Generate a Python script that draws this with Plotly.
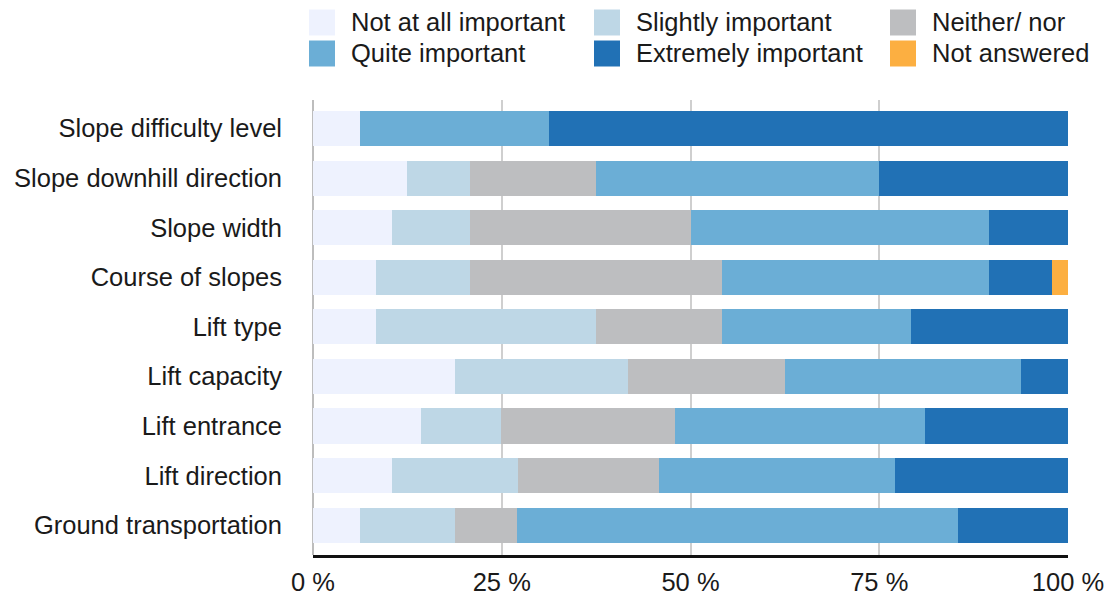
import plotly.graph_objects as go

categories = [
    "Slope difficulty level",
    "Slope downhill direction",
    "Slope width",
    "Course of slopes",
    "Lift type",
    "Lift capacity",
    "Lift entrance",
    "Lift direction",
    "Ground transportation",
]

not_at_all = [6.25, 12.5, 10.42, 8.33, 8.33, 18.75, 14.3, 10.42, 6.25]
slightly = [0, 8.33, 10.42, 12.5, 29.17, 22.92, 10.6, 16.67, 12.5]
neither = [0, 16.67, 29.17, 33.33, 16.67, 20.83, 23.1, 18.75, 8.33]
quite = [25.0, 37.5, 39.58, 35.42, 25.0, 31.25, 33.1, 31.25, 58.33]
extremely = [68.75, 25.0, 10.42, 8.33, 20.83, 6.25, 18.9, 22.92, 14.58]
not_answered = [0, 0, 0, 2.08, 0, 0, 0, 0, 0]

series_names = ["Not at all important", "Slightly important", "Neither/ nor",
                "Quite important", "Extremely important", "Not answered"]
series_values = [not_at_all, slightly, neither, quite, extremely, not_answered]
colors = ["#EEF2FE", "#BED7E6", "#BDBEC0", "#6BAED6", "#2171B5", "#FCAF41"]

tick_vals = [0, 25, 50, 75, 100]
tick_text = ["0 %", "25 %", "50 %", "75 %", "100 %"]

FONT = "Liberation Sans"
FS = 25.5
TXT = "#1a1a1a"

W, H = 1108, 599
ML, MR, MT, MB = 313, 40, 100, 44
PW, PH = W - ML - MR, H - MT - MB


def px_x(x):
    return (x - ML) / PW


def px_y(y):
    return (H - MB - y) / PH


fig = go.Figure()
for name, vals, col in zip(series_names, series_values, colors):
    fig.add_trace(go.Bar(
        y=categories, x=vals, name=name, orientation="h",
        marker=dict(color=col, line=dict(width=0)),
        showlegend=False,
    ))

# custom legend (3 columns x 2 rows)
col_x = [309, 594, 890]
row_y = [22.5, 53.5]
sw = 26
shapes = []
annotations = []
for i, (name, col) in enumerate(zip(series_names, colors)):
    r, c = divmod(i, 3)
    x0 = col_x[c]
    yc = row_y[r]
    shapes.append(dict(type="rect", xref="paper", yref="paper",
                       x0=px_x(x0), x1=px_x(x0 + sw),
                       y0=px_y(yc + sw / 2), y1=px_y(yc - sw / 2),
                       fillcolor=col, line=dict(width=0), layer="above"))
    annotations.append(dict(xref="paper", yref="paper", x=px_x(x0 + 40), y=px_y(yc),
                            text=name, showarrow=False, xanchor="left", yanchor="middle",
                            font=dict(family=FONT, size=FS, color=TXT)))

fig.update_layout(
    barmode="stack",
    bargap=0.29,
    width=W, height=H,
    margin=dict(l=ML, r=MR, t=MT, b=MB, autoexpand=False),
    paper_bgcolor="white",
    plot_bgcolor="white",
    font=dict(family=FONT, size=FS, color=TXT),
    shapes=shapes,
    annotations=annotations,
    xaxis=dict(
        range=[0, 100],
        tickmode="array",
        tickvals=tick_vals,
        ticktext=tick_text,
        showgrid=True, gridcolor="#cfcfcf", gridwidth=1.5,
        zeroline=True, zerolinecolor="#bdbdbd", zerolinewidth=2,
        showline=True, linecolor="#111111", linewidth=2.5,
        ticks="", ticklabelstandoff=3,
        tickfont=dict(family=FONT, size=FS, color=TXT),
        fixedrange=True,
    ),
    yaxis=dict(
        categoryorder="array", categoryarray=categories,
        range=[8.6, -0.575],
        showgrid=False, zeroline=False, showline=False,
        ticks="", ticklabelstandoff=30,
        tickfont=dict(family=FONT, size=FS, color=TXT),
        fixedrange=True,
    ),
)

fig.write_html(
    "out.html",
    config={"displayModeBar": False},
    post_script="document.body.style.margin='0px';document.body.style.padding='0px';",
)
